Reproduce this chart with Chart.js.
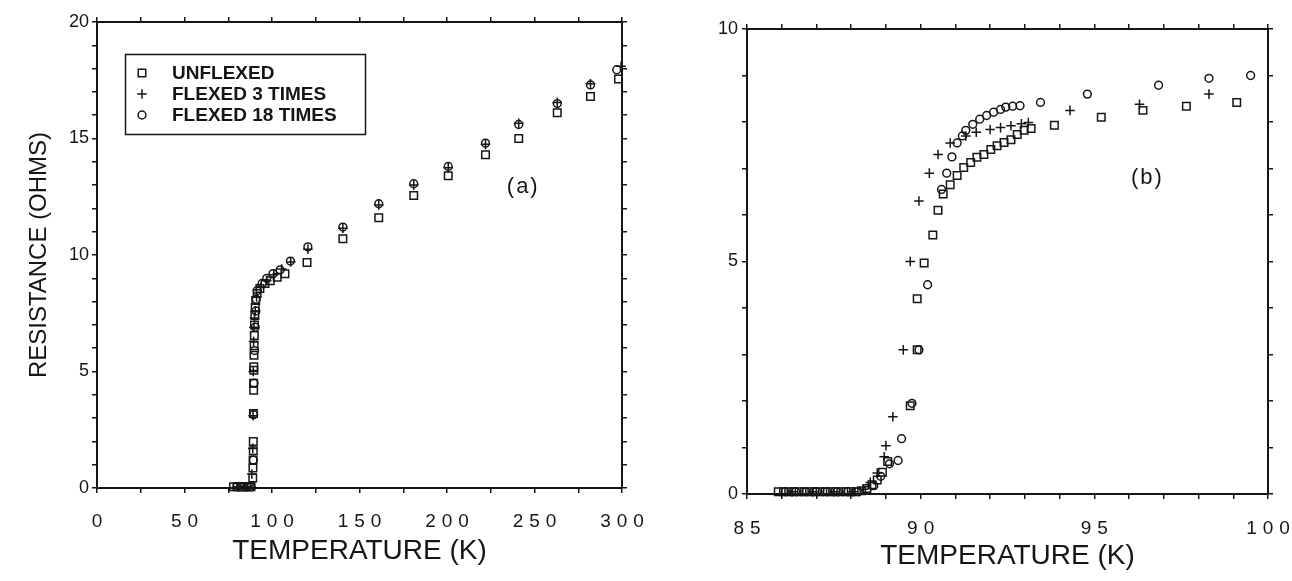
<!DOCTYPE html>
<html>
<head>
<meta charset="utf-8">
<script src="https://cdn.jsdelivr.net/npm/chart.js@4.4.1/dist/chart.umd.min.js"></script>
<style>
html,body{margin:0;padding:0;background:#fff;}
#wrap{position:relative;width:1292px;height:581px;overflow:hidden;background:#fff;}
canvas{position:absolute;top:0;}
#ca{left:0;}
#cb{left:646px;}
</style>
</head>
<body>
<div id="wrap">
<canvas id="ca" width="646" height="581"></canvas>
<canvas id="cb" width="646" height="581"></canvas>
</div>
<script>
// ---------- text ----------
const seriesNames = ['UNFLEXED', 'FLEXED 3 TIMES', 'FLEXED 18 TIMES'];
const xTitle = 'TEMPERATURE (K)';
const yTitle = 'RESISTANCE (OHMS)';
const panelLabels = ['(a)', '(b)'];

// ---------- tick labels ----------
const aXTicks = [0, 50, 100, 150, 200, 250, 300];
const aYTicks = [0, 5, 10, 15, 20];
const bXTicks = [85, 90, 95, 100];
const bYTicks = [0, 5, 10];

// ---------- panel (a): 0-300 K ----------
const aUnflexedT = [78, 80, 82, 84, 85.5, 87, 88,
  89.0, 89.1, 89.2, 89.3, 89.3, 89.4, 89.5, 89.5, 89.6, 89.6, 89.7, 89.8, 89.9, 90.0, 90.2, 90.4,
  90.7, 91.5, 93.1, 96, 99, 103, 107.4,
  120, 140.5, 161, 181, 200.7, 222, 241, 263, 282, 298];
const aUnflexedR = [0.05, 0.05, 0.05, 0.05, 0.05, 0.05, 0.05,
  0.43, 0.86, 1.2, 1.6, 2.0, 3.2, 4.2, 4.5, 5.05, 5.2, 5.7, 6.1, 6.55, 7.0, 7.4, 7.75,
  8.05, 8.35, 8.56, 8.78, 8.9, 9.04, 9.2,
  9.68, 10.7, 11.6, 12.55, 13.4, 14.3, 15.0, 16.1, 16.8, 17.55];

const aFlex3T = [81, 85, 88.5, 89.0, 89.2, 89.3, 89.5, 89.7, 90.0, 90.4,
  91.2, 93.5, 97, 101, 105.5, 110.7,
  120.5, 140.5, 161, 181, 200.7, 222, 241, 263, 282, 299.5];
const aFlex3R = [0.05, 0.05, 0.6, 1.7, 3.1, 5.0, 6.3, 6.9, 7.3, 7.6,
  8.2, 8.6, 8.9, 9.15, 9.4, 9.7,
  10.25, 11.15, 12.15, 13.0, 13.75, 14.75, 15.65, 16.55, 17.35, 18.1];

const aFlex18T = [80, 83, 86, 88, 89.3, 89.5, 89.7, 90.0, 90.4, 90.8,
  91.0, 91.6, 94.3, 97, 100.6, 104.6, 110.5,
  120.5, 140.5, 161, 181, 200.7, 222, 241, 263, 282, 297];
const aFlex18R = [0.05, 0.05, 0.05, 0.05, 1.2, 3.15, 4.5, 5.9, 6.9, 7.6,
  8.1, 8.48, 8.78, 9.0, 9.2, 9.36, 9.74,
  10.35, 11.2, 12.2, 13.06, 13.8, 14.8, 15.6, 16.5, 17.3, 17.95];

// ---------- panel (b): 85-100 K ----------
const bUnflexedT = [85.9, 86.05, 86.2, 86.35, 86.5, 86.65, 86.8, 86.95, 87.1, 87.25, 87.4, 87.55, 87.7, 87.85, 88.0, 88.15,
  88.3, 88.45, 88.6, 88.75, 88.9, 89.05,
  89.7, 89.9, 89.9, 90.1, 90.35, 90.5, 90.65, 90.85, 91.05,
  91.24, 91.44, 91.62, 91.82, 92.02, 92.2, 92.4, 92.6, 92.78, 92.98, 93.18,
  93.85, 95.2, 96.4, 97.65, 99.1];
const bUnflexedR = [0.05, 0.05, 0.05, 0.05, 0.05, 0.05, 0.05, 0.05, 0.05, 0.05, 0.05, 0.05, 0.05, 0.05, 0.05, 0.05,
  0.07, 0.12, 0.2, 0.3, 0.47, 0.7,
  1.9, 3.1, 4.2, 4.97, 5.57, 6.1, 6.45, 6.65, 6.85,
  7.02, 7.13, 7.24, 7.3, 7.41, 7.49, 7.56, 7.62, 7.73, 7.82, 7.86,
  7.93, 8.1, 8.25, 8.34, 8.42];

const bFlex3T = [86.3, 86.9, 87.5, 88.05,
  88.35, 88.55, 88.75, 88.95, 89.0, 89.2, 89.5, 89.7, 89.95, 90.25, 90.5, 90.85,
  91.3, 91.6, 92.0, 92.3, 92.6, 92.9, 93.1,
  94.3, 96.3, 98.3];
const bFlex3R = [0.05, 0.05, 0.05, 0.05,
  0.1, 0.25, 0.45, 0.8, 1.04, 1.66, 3.1, 5.0, 6.3, 6.9, 7.3, 7.55,
  7.7, 7.78, 7.84, 7.88, 7.92, 7.96, 7.99,
  8.25, 8.38, 8.6];

const bFlex18T = [86.1, 86.4, 86.7, 87.0, 87.3, 87.6, 87.9, 88.2,
  88.45, 88.65, 88.85, 89.1, 89.35, 89.45, 89.75, 89.95, 90.2,
  90.6, 90.75, 90.9, 91.05, 91.2,
  91.3, 91.5, 91.7, 91.9, 92.1, 92.3, 92.45, 92.65, 92.86,
  93.45, 94.8, 96.85, 98.3, 99.5];
const bFlex18R = [0.05, 0.05, 0.05, 0.05, 0.05, 0.05, 0.05, 0.05,
  0.08, 0.18, 0.38, 0.65, 0.72, 1.19, 1.95, 3.1, 4.5,
  6.55, 6.9, 7.25, 7.55, 7.7,
  7.82, 7.95, 8.06, 8.14, 8.21, 8.27, 8.32, 8.34, 8.35,
  8.42, 8.6, 8.79, 8.94, 9.0];

// ---------- panel label anchors (data units) ----------
const panelLabelAt = [[243, 12.9], [96.5, 6.8]];

// ---------- styling ----------
const INK = '#161616';
const FONT = '"Liberation Sans", Arial, Helvetica, sans-serif';
Chart.defaults.font.family = FONT;
Chart.defaults.color = INK;

function pts(T, R) { return T.map((t, i) => ({ x: t, y: R[i] })); }

function makeDatasets(uT, uR, f3T, f3R, f18T, f18R) {
  const common = { borderColor: INK, backgroundColor: 'rgba(0,0,0,0)', pointBorderWidth: 1.5, clip: false };
  return [
    Object.assign({ label: seriesNames[0], data: pts(uT, uR), pointStyle: 'rect', pointRadius: 5.3 }, common),
    Object.assign({ label: seriesNames[1], data: pts(f3T, f3R), pointStyle: 'cross', pointRadius: 4.8 }, common),
    Object.assign({ label: seriesNames[2], data: pts(f18T, f18R), pointStyle: 'circle', pointRadius: 3.9 }, common)
  ];
}

function gridOpts() {
  return { drawOnChartArea: false, drawTicks: true, tickLength: 5, color: INK, lineWidth: 1.5, tickWidth: 1.5, tickColor: INK };
}
function borderOpts() { return { display: true, color: INK, width: 2 }; }

function makeScales(c) {
  return {
    x: {
      type: 'linear', position: 'bottom', min: c.xmin, max: c.xmax,
      ticks: { stepSize: c.xstep, autoSkip: false, maxRotation: 0, font: { size: 19 }, padding: c.xpad, z: 1, color: INK,
        callback: (v) => c.xLabels.includes(v) ? String(v) : '' },
      grid: gridOpts(), border: borderOpts(),
      title: { display: true, text: xTitle, color: INK, font: { size: 28 }, padding: { top: 0, bottom: c.xTitlePad } },
      afterFit: (s) => { s.height = c.bottomH; s.paddingLeft = 0; s.paddingRight = 0; }
    },
    x2: {
      type: 'linear', position: 'top', min: c.xmin, max: c.xmax,
      ticks: { stepSize: c.xstep, autoSkip: false, display: false },
      grid: gridOpts(), border: borderOpts(),
      afterFit: (s) => { s.height = c.topH; s.paddingLeft = 0; s.paddingRight = 0; }
    },
    y: {
      type: 'linear', position: 'left', min: c.ymin, max: c.ymax,
      ticks: { stepSize: 1, autoSkip: false, font: { size: 18 }, padding: c.ypad, color: INK,
        callback: (v) => c.yLabels.includes(v) ? String(v) : '' },
      grid: gridOpts(), border: borderOpts(),
      title: c.yTitle ? { display: true, text: c.yTitle, color: INK, font: { size: 24 }, padding: { top: c.yTitlePad, bottom: 0 } } : { display: false },
      afterFit: (s) => { s.width = c.leftW; s.paddingTop = 0; s.paddingBottom = 0; }
    },
    y2: {
      type: 'linear', position: 'right', min: c.ymin, max: c.ymax,
      ticks: { stepSize: 1, autoSkip: false, display: false },
      grid: gridOpts(), border: borderOpts(),
      afterFit: (s) => { s.width = c.rightW; s.paddingTop = 0; s.paddingBottom = 0; }
    }
  };
}

// letter-spaced x tick labels (drawn after datasets, z = 1); shift compensates trailing spacing
const spacedTicks = {
  id: 'spacedTicks',
  afterDatasetsDraw(chart) { const ctx = chart.ctx; ctx.save(); ctx.letterSpacing = '6px'; ctx.translate(3, 0); },
  afterDraw(chart) { chart.ctx.restore(); }
};

// panel label "(a)" / "(b)"
const panelLabel = {
  id: 'panelLabel',
  afterDraw(chart, args, opts) {
    const ctx = chart.ctx;
    const px = chart.scales.x.getPixelForValue(opts.at[0]);
    const py = chart.scales.y.getPixelForValue(opts.at[1]);
    ctx.save();
    ctx.letterSpacing = '2px';
    ctx.font = '22px ' + FONT;
    ctx.fillStyle = INK;
    ctx.textAlign = 'center';
    ctx.textBaseline = 'middle';
    ctx.fillText(opts.text, px + 1, py);
    ctx.restore();
  }
};

// boxed legend inside panel (a)
const boxLegend = {
  id: 'boxLegend',
  afterDraw(chart) {
    const ctx = chart.ctx;
    ctx.save();
    ctx.letterSpacing = '0px';
    ctx.lineWidth = 1.5;
    ctx.strokeStyle = INK;
    ctx.strokeRect(125.5, 54.5, 240, 80);
    const rows = [73, 94, 115];
    chart.data.datasets.forEach((ds, i) => {
      ctx.fillStyle = 'rgba(0,0,0,0)';
      ctx.strokeStyle = INK;
      ctx.lineWidth = 1.5;
      Chart.helpers.drawPoint(ctx, { pointStyle: ds.pointStyle, radius: ds.pointRadius, borderWidth: 1.5, rotation: 0 }, 142, rows[i]);
      ctx.fillStyle = INK;
      ctx.font = 'bold 19px ' + FONT;
      ctx.textAlign = 'left';
      ctx.textBaseline = 'middle';
      ctx.fillText(ds.label, 172, rows[i] + 1);
    });
    ctx.restore();
  }
};

function makeChart(id, datasets, c, label, labelAt, extraPlugins) {
  return new Chart(document.getElementById(id), {
    type: 'scatter',
    data: { datasets },
    options: {
      responsive: false, animation: false, devicePixelRatio: 1, events: [],
      layout: { padding: 0 },
      scales: makeScales(c),
      plugins: {
        legend: { display: false }, tooltip: { enabled: false },
        panelLabel: { text: label, at: labelAt }
      }
    },
    plugins: [spacedTicks, panelLabel].concat(extraPlugins)
  });
}

makeChart('ca',
  makeDatasets(aUnflexedT, aUnflexedR, aFlex3T, aFlex3R, aFlex18T, aFlex18R),
  { xmin: 0, xmax: 300, xstep: 25, xLabels: aXTicks, ymin: 0, ymax: 20, yLabels: aYTicks,
    leftW: 97, rightW: 24, topH: 22, bottomH: 93, xpad: 17, ypad: 3, xTitlePad: 13, yTitle: yTitle, yTitlePad: 25 },
  panelLabels[0], panelLabelAt[0], [boxLegend]);

makeChart('cb',
  makeDatasets(bUnflexedT, bUnflexedR, bFlex3T, bFlex3R, bFlex18T, bFlex18R),
  { xmin: 85, xmax: 100, xstep: 1, xLabels: bXTicks, ymin: 0, ymax: 10, yLabels: bYTicks,
    leftW: 101, rightW: 24, topH: 29, bottomH: 87, xpad: 18, ypad: 4, xTitlePad: 8, yTitle: null },
  panelLabels[1], panelLabelAt[1], []);
</script>
</body>
</html>
